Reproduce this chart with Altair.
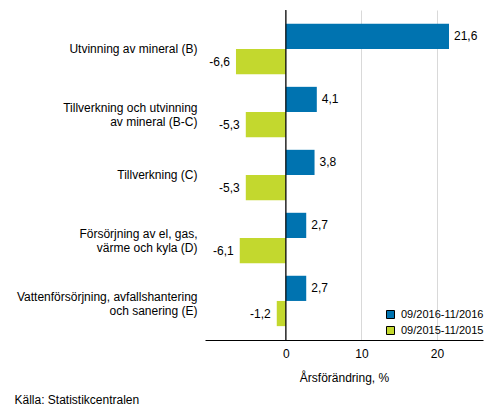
import pandas as pd
import altair as alt

# branscher (radbrytning med |)
kategorier = [
    "Utvinning av mineral (B)",
    "Tillverkning och utvinning|av mineral (B-C)",
    "Tillverkning (C)",
    "Försörjning av el, gas,|värme och kyla (D)",
    "Vattenförsörjning, avfallshantering|och sanering (E)",
]
perioder = ["09/2016-11/2016", "09/2015-11/2015"]
varden_2016 = [21.6, 4.1, 3.8, 2.7, 2.7]
varden_2015 = [-6.6, -5.3, -5.3, -6.1, -1.2]
farger = ["#0073b0", "#c3d82e"]

rows = []
for k, a, b in zip(kategorier, varden_2016, varden_2015):
    rows.append({"kat": k, "period": perioder[0], "v": a})
    rows.append({"kat": k, "period": perioder[1], "v": b})
df = pd.DataFrame(rows)

font = "Liberation Sans"

base = alt.Chart(df).encode(
    y=alt.Y("kat:N", sort=kategorier,
            scale=alt.Scale(paddingInner=0.2, paddingOuter=0.22),
            axis=alt.Axis(title=None, ticks=False, domain=False, labelPadding=8,
                          labelFontSize=12, labelFont=font, labelColor="black",
                          labelLineHeight=14, labelLimit=300,
                          labelOffset={"condition": {"test": "indexof(datum.value, '|') >= 0",
                                                     "value": -4}, "value": 0},
                          labelExpr="split(datum.label, '|')")),
    yOffset=alt.YOffset("period:N", sort=perioder, scale=alt.Scale(paddingInner=0)),
)

xscale = alt.Scale(domain=[-10.7, 26.1], nice=False, zero=False)

bars = base.mark_bar().encode(
    x=alt.X("v:Q", scale=xscale,
            axis=alt.Axis(values=[0, 10, 20], title="Årsförändring, %", ticks=False,
                          grid=True, gridColor="#d9d9d9", domainColor="black",
                          labelFontSize=12, labelFont=font, labelColor="black",
                          labelPadding=8, titleFontSize=12, titleFont=font,
                          titleFontWeight="normal", titleColor="black", titlePadding=13)),
    color=alt.Color("period:N", sort=perioder,
                    scale=alt.Scale(domain=perioder, range=farger),
                    legend=alt.Legend(title=None, orient="none", legendX=180, legendY=299,
                                      symbolType="square", symbolSize=64,
                                      symbolStrokeColor="black", symbolStrokeWidth=1,
                                      labelFontSize=11, labelFont=font, labelColor="black",
                                      rowPadding=3, labelOffset=5)),
)

# decimalkomma och vanligt bindestreck
text = base.transform_calculate(
    lbl="replace(replace(format(datum.v, '.1f'), '.', ','), '\u2212', '-')"
).encode(x=alt.X("v:Q", scale=xscale), text="lbl:N")

pos = text.transform_filter("datum.v >= 0").mark_text(
    align="left", dx=5, fontSize=12, font=font, color="black")
neg = text.transform_filter("datum.v < 0").mark_text(
    align="right", dx=-6, fontSize=12, font=font, color="black")

noll = alt.Chart(pd.DataFrame({"x": [0]})).mark_rule(color="black", strokeWidth=1.2).encode(
    x=alt.X("x:Q", scale=xscale))

chart = alt.layer(bars, noll, pos, neg).properties(
    width=278, height=330,
    autosize=alt.AutoSizeParams(type="none"),
    padding={"left": 197, "top": 2, "right": 2, "bottom": 70},
    title=alt.TitleParams("Källa: Statistikcentralen", orient="bottom", anchor="start",
                          frame="bounds", fontSize=12, font=font, fontWeight="normal",
                          color="black", offset=12, dx=-2),
).configure_view(stroke=None)

chart.save("out.html", embed_options={"renderer": "svg", "actions": False})
